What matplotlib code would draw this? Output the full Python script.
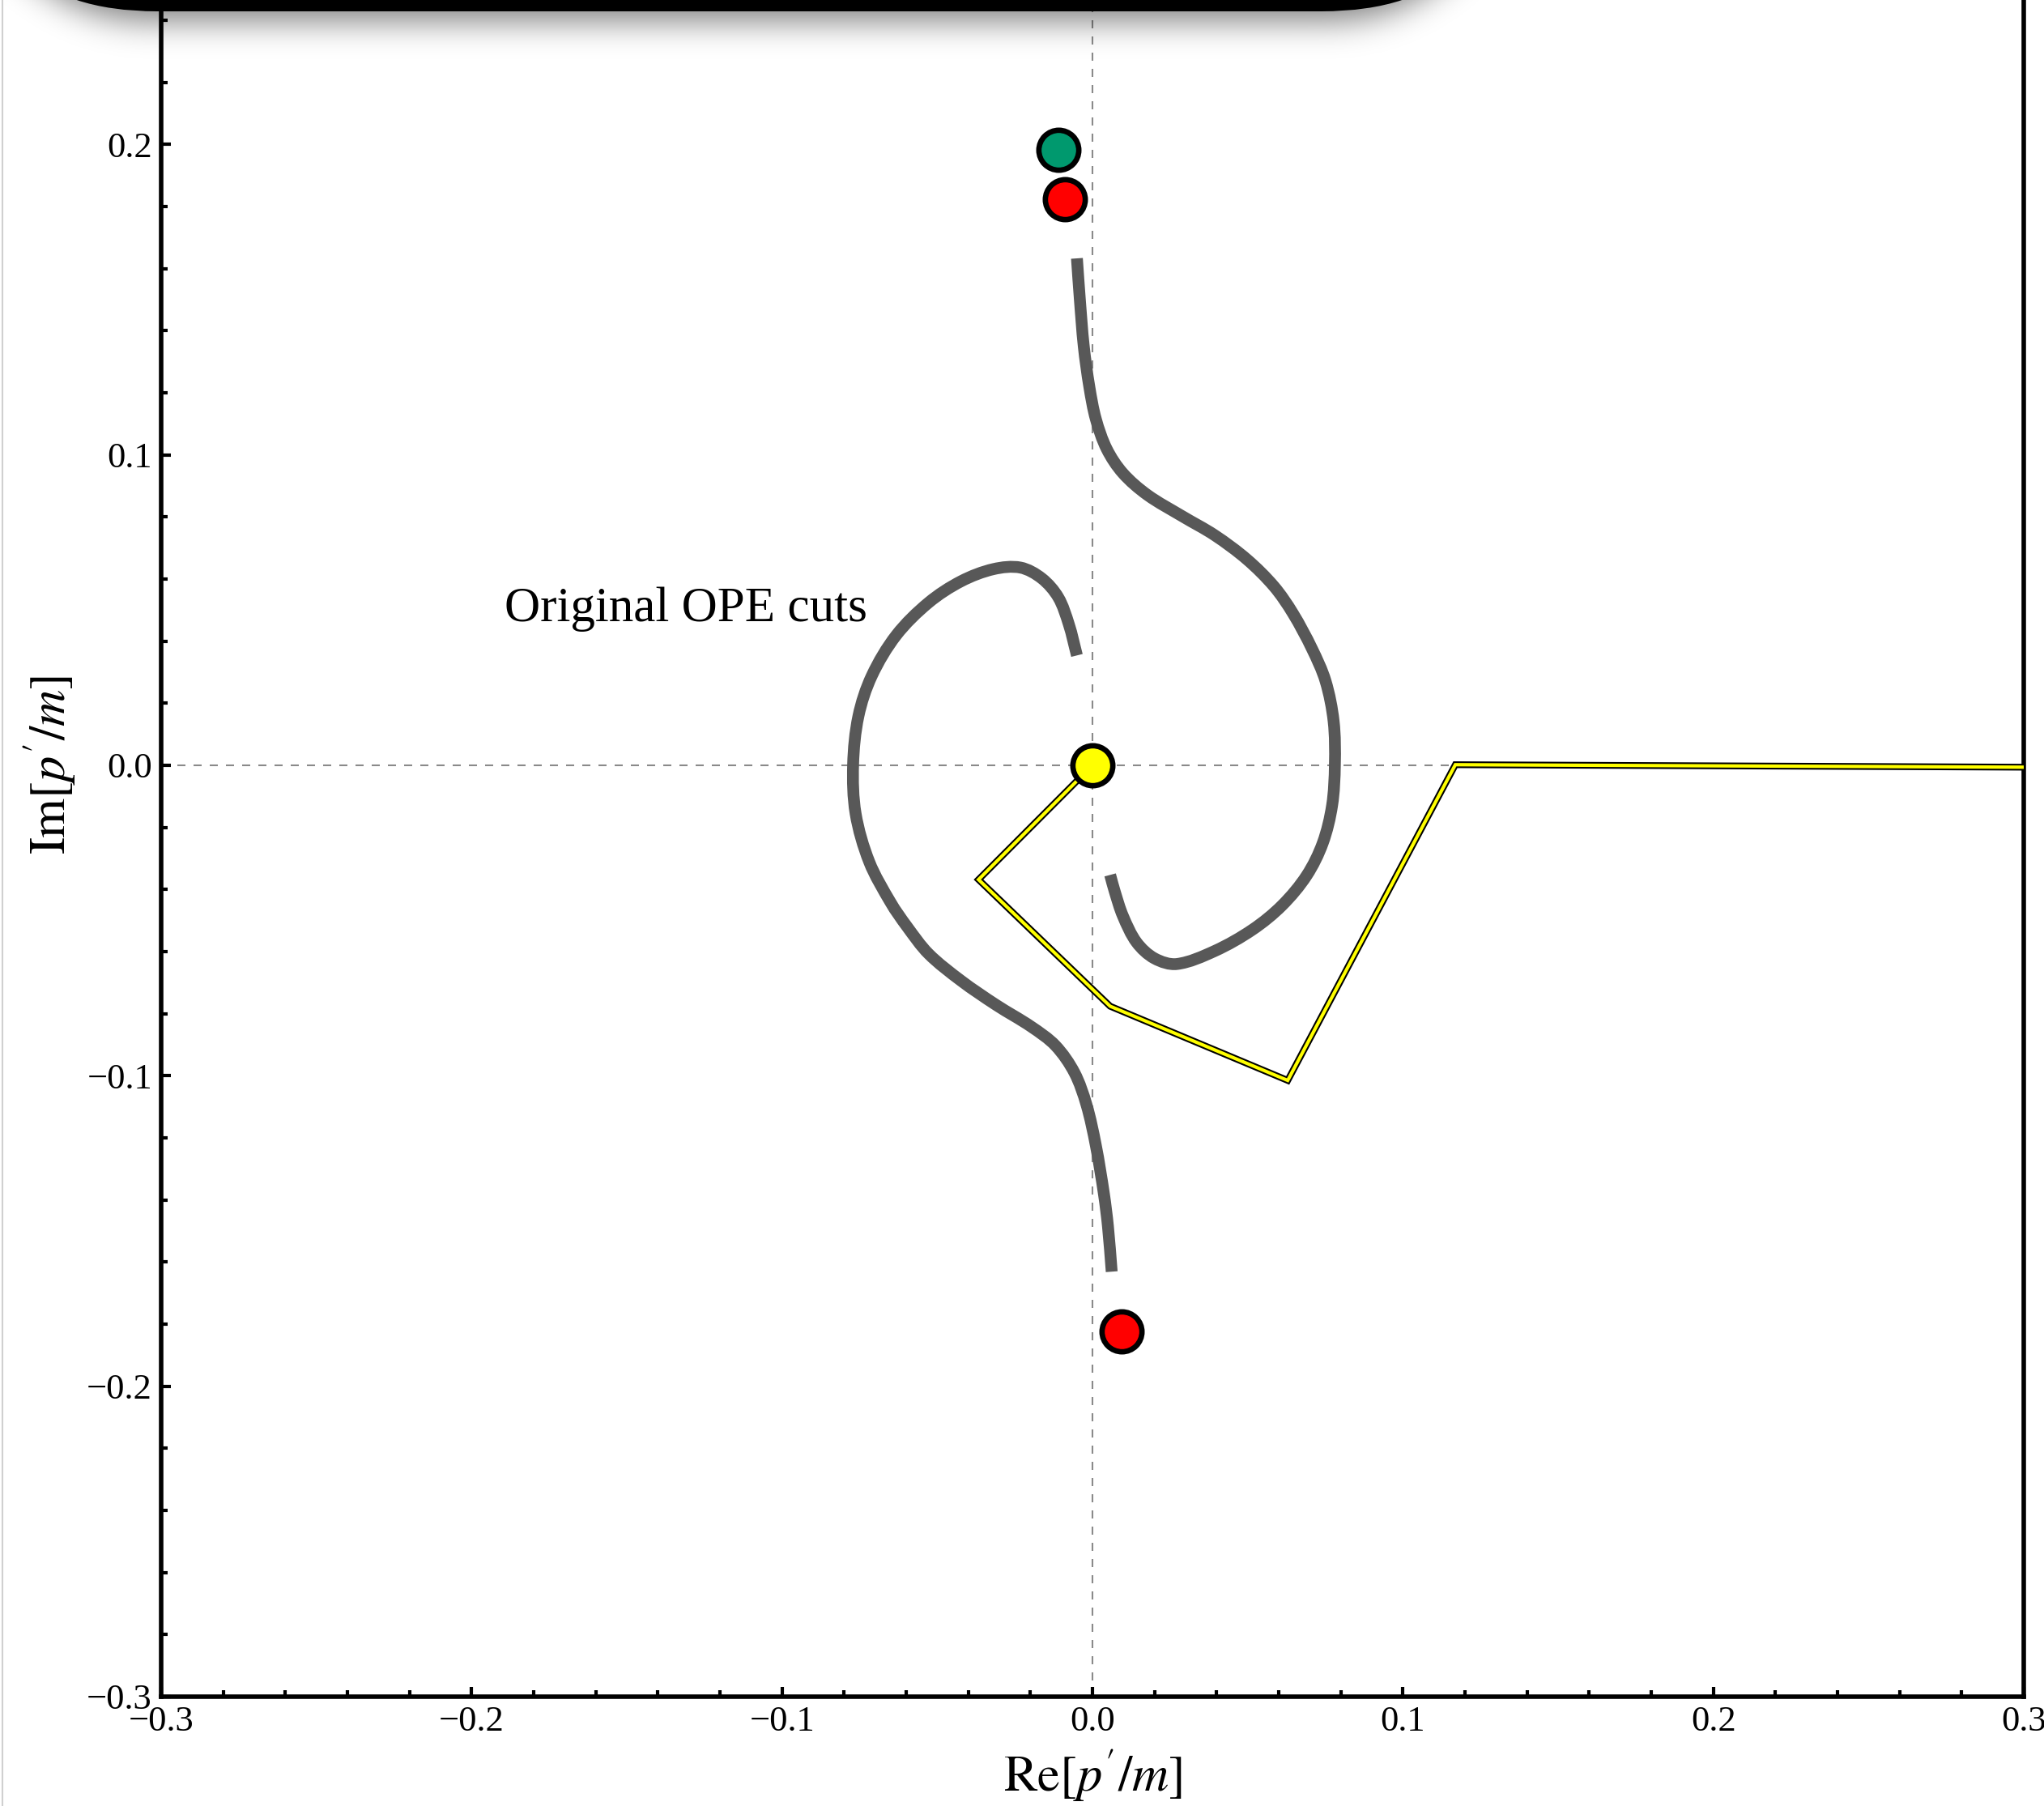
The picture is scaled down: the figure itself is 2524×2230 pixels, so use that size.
import numpy as np
import matplotlib
matplotlib.use("Agg")
import matplotlib.pyplot as plt
from matplotlib.ticker import MultipleLocator, FixedLocator, FuncFormatter
from matplotlib.patches import FancyBboxPatch, PathPatch
from matplotlib.path import Path
from matplotlib.lines import Line2D
from matplotlib.transforms import IdentityTransform

plt.rcParams['font.family'] = ['Liberation Serif', 'DejaVu Serif']
plt.rcParams['mathtext.fontset'] = 'stix'

# ---- data (Re, Im of p'/m) ----
# upper OPE cut
cut_upper_re = [-0.0050, -0.0041, -0.0028, -0.0010, 0.0011, 0.0046, 0.0098, 0.0177,
                0.0290, 0.0394, 0.0498, 0.0585, 0.0646, 0.0707, 0.0751, 0.0777,
                0.0781, 0.0772, 0.0742, 0.0690, 0.0611, 0.0516, 0.0394, 0.0272,
                0.0200, 0.0142, 0.0098, 0.0072, 0.0057]
cut_upper_im = [0.1633, 0.1506, 0.1350, 0.1219, 0.1115, 0.1019, 0.0941, 0.0871,
                0.0802, 0.0741, 0.0663, 0.0576, 0.0489, 0.0376, 0.0271, 0.0141,
                0.0002, -0.0129, -0.0250, -0.0355, -0.0451, -0.0529, -0.0598, -0.0640,
                -0.0622, -0.0570, -0.0485, -0.0407, -0.0353]

# lower OPE cut
cut_lower_re = [-0.0050, -0.0076, -0.0110, -0.0163, -0.0232, -0.0319, -0.0423, -0.0528,
                -0.0632, -0.0711, -0.0754, -0.0771, -0.0763, -0.0719, -0.0650, -0.0597,
                -0.0528, -0.0423, -0.0310, -0.0197, -0.0119, -0.0058, -0.0019, 0.0011,
                0.0037, 0.0050, 0.0062]
cut_lower_im = [0.0354, 0.0454, 0.0541, 0.0602, 0.0637, 0.0632, 0.0593, 0.0524,
                0.0419, 0.0288, 0.0158, 0.0002, -0.0155, -0.0311, -0.0442, -0.0520,
                -0.0607, -0.0694, -0.0772, -0.0842, -0.0903, -0.0990, -0.1094, -0.1225,
                -0.1381, -0.1486, -0.1631]

# integration contour
contour_re = [0.0, -0.0367, 0.0057, 0.0629, 0.1169, 0.3]
contour_im = [0.0, -0.0368, -0.0776, -0.1015, 0.0002, -0.0006]

# special points
origin_pt = (0.0, 0.0)
green_pt = (-0.0109, 0.1983)
red_re = [-0.0089, 0.0094]
red_im = [0.1824, -0.1824]

annotation = "Original OPE cuts"
annotation_pos = (-0.1894, 0.0464)

y_major_ticks = [-0.3, -0.2, -0.1, 0.0, 0.1, 0.2]


def smooth_path(xs, ys):
    """Cubic Bezier path through every given point, with chord-length tangents."""
    p = np.column_stack([xs, ys]).astype(float)
    n = len(p)
    seg = np.linalg.norm(np.diff(p, axis=0), axis=1)
    tang = np.zeros_like(p)
    for i in range(n):
        if i == 0:
            tang[i] = (p[1] - p[0]) / seg[0]
        elif i == n - 1:
            tang[i] = (p[-1] - p[-2]) / seg[-1]
        else:
            tang[i] = (p[i + 1] - p[i - 1]) / (seg[i] + seg[i - 1])
    verts = [p[0]]
    codes = [Path.MOVETO]
    for i in range(n - 1):
        h = seg[i] / 3.0
        verts += [p[i] + tang[i] * h, p[i + 1] - tang[i + 1] * h, p[i + 1]]
        codes += [Path.CURVE4] * 3
    return Path(np.array(verts), codes)


# ---- figure ----
W, H, DPI = 2524, 2230, 100
fig = plt.figure(figsize=(W / DPI, H / DPI), dpi=DPI)
fig.patch.set_facecolor('white')

ax_left, ax_right, ax_bottom = 199, 2499, 2095  # pixel frame
px_per_unit = (ax_right - ax_left) / 0.6
ax_h = 0.6 * px_per_unit
ax = fig.add_axes([ax_left / W, (H - ax_bottom) / H, (ax_right - ax_left) / W, ax_h / H])
ax.set_xlim(-0.3, 0.3)
ax.set_ylim(-0.3, 0.3)

# dashed coordinate axes
dash_kw = dict(color='#8a8a8a', lw=1.5, linestyle=(0, (4.8, 4.8)), zorder=1)
ax.axhline(0, **dash_kw)
ax.axvline(0, **dash_kw)

# cuts
for cx, cy in [(cut_upper_re, cut_upper_im), (cut_lower_re, cut_lower_im)]:
    ax.add_patch(PathPatch(smooth_path(cx, cy), fill=False, edgecolor='#585858',
                           lw=10.5, capstyle='butt', joinstyle='round', zorder=2))

# contour: yellow with black outline
ax.plot(contour_re, contour_im, color='black', lw=6, solid_joinstyle='miter', zorder=3)
ax.plot(contour_re, contour_im, color='#ffff00', lw=3, solid_joinstyle='miter', zorder=3.1)

# points
mk = dict(marker='o', ms=35.5, mec='black', mew=4.8, linestyle='none', zorder=5)
ax.plot([origin_pt[0]], [origin_pt[1]], mfc='#ffff00', **mk)
ax.plot([green_pt[0]], [green_pt[1]], mfc='#00996e', **mk)
ax.plot(red_re, red_im, mfc='#ff0000', **mk)

ax.text(annotation_pos[0], annotation_pos[1], annotation, fontsize=44,
        ha='left', va='baseline', zorder=6)

# ticks / frame
ax.xaxis.set_major_locator(MultipleLocator(0.1))
ax.yaxis.set_major_locator(FixedLocator(y_major_ticks))
ax.xaxis.set_minor_locator(MultipleLocator(0.02))
ax.yaxis.set_minor_locator(MultipleLocator(0.02))


def fmt(v, _pos):
    if abs(v) < 1e-9:
        return "0.0"
    return f"{v:.1f}".replace('-', '\u2212')


ax.xaxis.set_major_formatter(FuncFormatter(fmt))
ax.yaxis.set_major_formatter(FuncFormatter(fmt))
ax.tick_params(which='both', direction='in', top=False, right=False,
               labelsize=32, pad=8, width=3, color='black')
ax.tick_params(which='major', length=8.5)
ax.tick_params(which='minor', length=6)
for s in ax.spines.values():
    s.set_linewidth(4)

ax.set_xlabel(r"$\mathrm{Re}[p'/m]$", fontsize=45, va='center', ha='center')
ax.xaxis.set_label_coords(1349 / W, 1 - 2192 / H, transform=fig.transFigure)
ax.set_ylabel(r"$\mathrm{Im}[p'/m]$", fontsize=45, va='center', ha='center')
ax.yaxis.set_label_coords(61 / W, 1 - 945 / H, transform=fig.transFigure)

# ---- window chrome: dark rounded banner with soft drop shadow ----
bar_left, bar_right, bar_bottom, bar_r = -36, 1862, 14, 230


def rounded_bar(xs, ys, left, right, bottom, r):
    inside = (xs >= left) & (xs <= right) & (ys <= bottom)
    cy = bottom - r
    lc = (xs < left + r) & (ys > cy)
    inside &= ~(lc & ((xs - (left + r)) ** 2 + (ys - cy) ** 2 > r ** 2))
    rc = (xs > right - r) & (ys > cy)
    inside &= ~(rc & ((xs - (right - r)) ** 2 + (ys - cy) ** 2 > r ** 2))
    return inside.astype(float)


pad_y, pad_x, rows = 150, 200, 200
ys = np.arange(-pad_y, rows)[:, None] + 0.5
xs = np.arange(-pad_x, W + pad_x)[None, :] + 0.5
mask = rounded_bar(xs, ys, bar_left - 8, bar_right + 8, bar_bottom + 12, bar_r)
sigma = 20.0
t = np.arange(-int(3 * sigma), int(3 * sigma) + 1)
kern = np.exp(-0.5 * (t / sigma) ** 2)
kern /= kern.sum()
blur = np.apply_along_axis(lambda m: np.convolve(m, kern, mode='same'), 1, mask)
blur = np.apply_along_axis(lambda m: np.convolve(m, kern, mode='same'), 0, blur)
blur = blur[pad_y:pad_y + rows, pad_x:pad_x + W]
shadow = np.zeros((rows, W, 4))
shadow[..., 3] = 0.5 * blur
fig.figimage(shadow, xo=0, yo=H - rows, origin='upper', zorder=20)

bar = FancyBboxPatch((bar_left, H - bar_bottom), bar_right - bar_left, 800,
                     boxstyle=f"round,pad=0,rounding_size={bar_r}",
                     transform=IdentityTransform(), facecolor='black',
                     edgecolor='none', zorder=30, clip_on=False)
fig.add_artist(bar)

fig.add_artist(Line2D([3, 3], [0, H], transform=IdentityTransform(),
                      color='#d0d0d0', lw=1.5, zorder=30))

fig.savefig('out.png', dpi=DPI)
